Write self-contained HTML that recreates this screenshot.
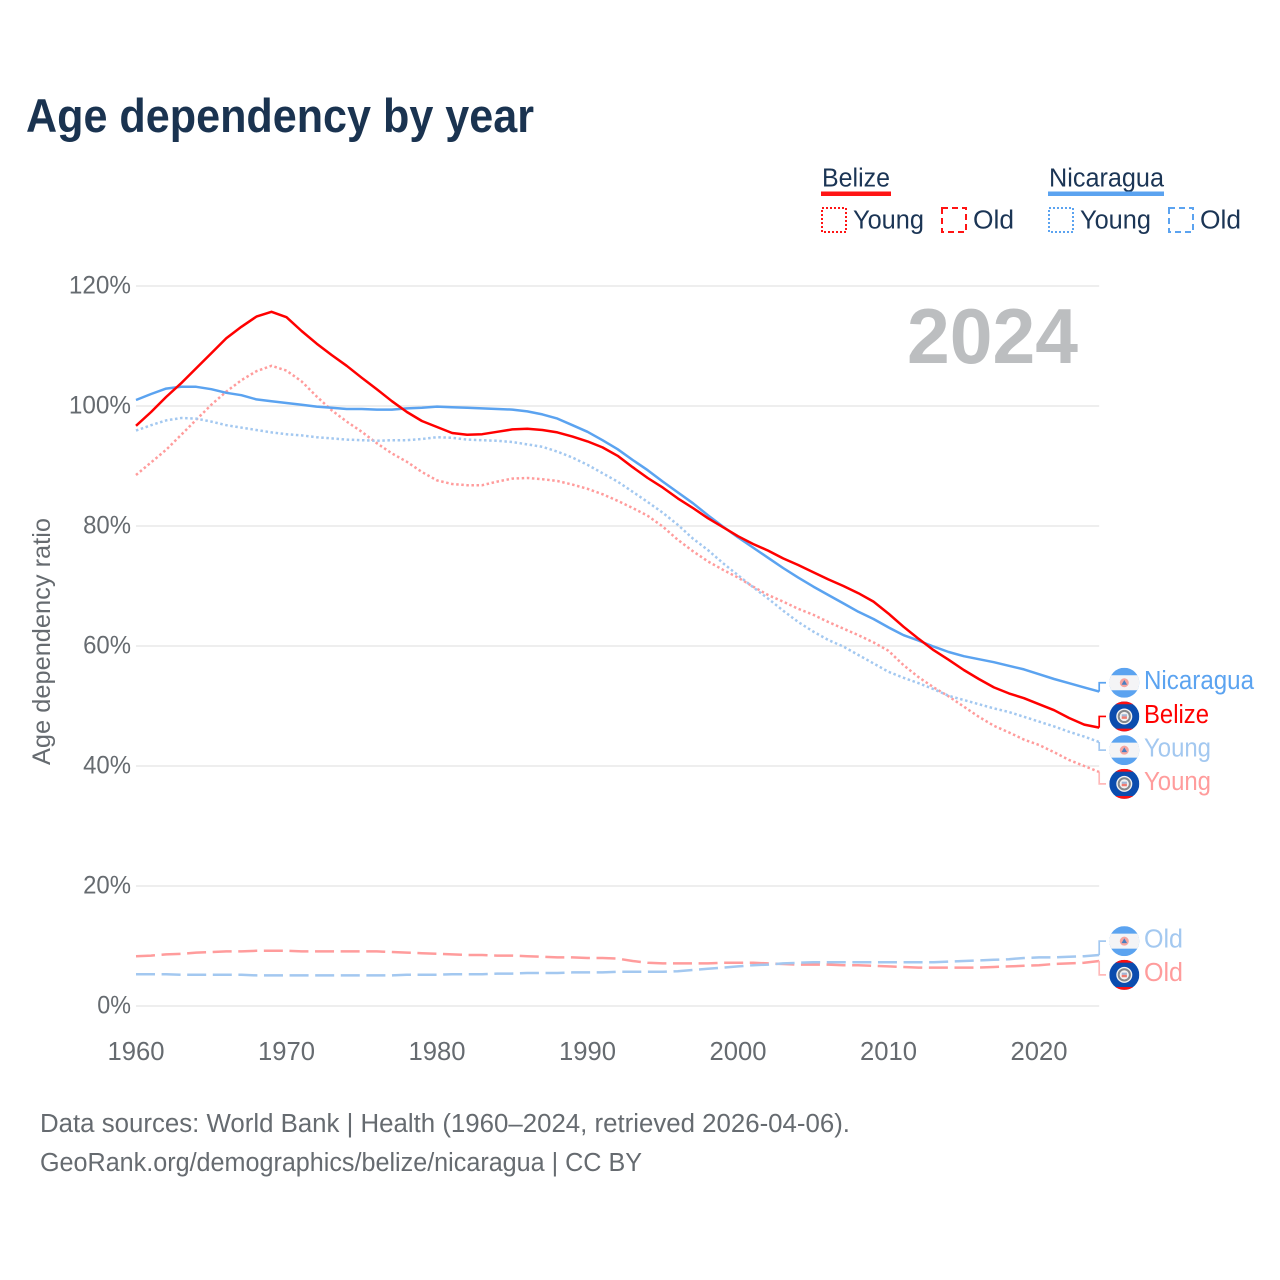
<!DOCTYPE html>
<html lang="en">
<head>
<meta charset="utf-8">
<title>Age dependency by year</title>
<style>
html,body{margin:0;padding:0;background:#fff;}
svg{display:block;}
text{font-family:"Liberation Sans",sans-serif;}
</style>
</head>
<body>
<svg id="chart" xmlns="http://www.w3.org/2000/svg" width="1280" height="1280" viewBox="0 0 1280 1280">
  <rect width="1280" height="1280" fill="#fff"/>
  <defs><clipPath id="flag-clip"><circle cx="0" cy="0" r="15"/></clipPath></defs>
  <text x="26" y="132" font-size="47" font-weight="700" fill="#1a3350" textLength="508" lengthAdjust="spacingAndGlyphs">Age dependency by year</text>

  <g font-size="25.5" fill="#1b3555">
    <text x="822" y="186.5" textLength="68" lengthAdjust="spacingAndGlyphs">Belize</text>
    <rect x="821" y="191.5" width="70" height="4.5" fill="#ff1414"/>
    <text x="1049" y="186.5" textLength="115" lengthAdjust="spacingAndGlyphs">Nicaragua</text>
    <rect x="1048" y="191.5" width="116" height="4.5" fill="#5ba3f0"/>
    <rect x="822" y="208" width="24" height="24" fill="none" stroke="#ff1414" stroke-width="2" stroke-dasharray="2 2"/>
    <text x="853" y="228.5" textLength="71" lengthAdjust="spacingAndGlyphs">Young</text>
    <rect x="942" y="208" width="24" height="24" fill="none" stroke="#ff1414" stroke-width="2" stroke-dasharray="6 4"/>
    <text x="973" y="228.5" textLength="41" lengthAdjust="spacingAndGlyphs">Old</text>
    <rect x="1049" y="208" width="24" height="24" fill="none" stroke="#5ba3f0" stroke-width="2" stroke-dasharray="2 2"/>
    <text x="1080" y="228.5" textLength="71" lengthAdjust="spacingAndGlyphs">Young</text>
    <rect x="1169" y="208" width="24" height="24" fill="none" stroke="#5ba3f0" stroke-width="2" stroke-dasharray="6 4"/>
    <text x="1200" y="228.5" textLength="41" lengthAdjust="spacingAndGlyphs">Old</text>
  </g>

  <g id="grid"></g>
  <g id="yticks"></g>
  <g id="xticks"></g>
  <text transform="translate(50,641.5) rotate(-90)" text-anchor="middle" font-size="25" fill="#666b70" textLength="247" lengthAdjust="spacingAndGlyphs">Age dependency ratio</text>
  <text x="907" y="363" font-size="78" font-weight="700" fill="#bcbec0" textLength="171" lengthAdjust="spacingAndGlyphs">2024</text>
  <g id="series"></g>
  <g id="endlabels"></g>

  <g font-size="25.5" fill="#666b70">
    <text x="40" y="1132" textLength="810" lengthAdjust="spacingAndGlyphs">Data sources: World Bank | Health (1960–2024, retrieved 2026-04-06).</text>
    <text x="40" y="1171" textLength="602" lengthAdjust="spacingAndGlyphs">GeoRank.org/demographics/belize/nicaragua | CC BY</text>
  </g>
</svg>
<script>
const startYear = 1960;
const xTickYears = [1960, 1970, 1980, 1990, 2000, 2010, 2020];
const yTickValues = [0, 20, 40, 60, 80, 100, 120];

const belizeTotal = [96.7,99.0,101.5,103.8,106.3,108.8,111.3,113.2,114.9,115.7,114.8,112.5,110.4,108.5,106.7,104.7,102.8,100.8,99.0,97.5,96.5,95.5,95.2,95.3,95.7,96.1,96.2,96.0,95.6,94.9,94.1,93.1,91.7,89.8,88.0,86.4,84.6,83.0,81.3,79.8,78.3,77.0,75.9,74.6,73.5,72.3,71.1,70.0,68.8,67.4,65.4,63.2,61.2,59.3,57.7,56.0,54.5,53.1,52.1,51.3,50.3,49.3,48.0,46.9,46.4];
const nicaraguaTotal = [101.0,102.0,102.9,103.2,103.2,102.8,102.2,101.8,101.1,100.8,100.5,100.2,99.9,99.7,99.5,99.5,99.4,99.4,99.6,99.7,99.9,99.8,99.7,99.6,99.5,99.4,99.1,98.6,97.9,96.8,95.7,94.3,92.8,91.0,89.3,87.4,85.6,83.8,81.8,79.9,78.1,76.4,74.7,73.0,71.4,69.9,68.5,67.1,65.7,64.5,63.1,61.8,60.9,59.9,59.0,58.3,57.8,57.3,56.7,56.1,55.3,54.5,53.8,53.1,52.4];
const belizeYoung = [88.5,90.6,92.7,95.2,97.7,100.2,102.4,104.3,105.8,106.7,105.9,104.1,101.6,99.3,97.4,95.7,93.8,92.1,90.7,89.0,87.6,87.0,86.8,86.8,87.4,87.9,88.0,87.8,87.5,86.9,86.2,85.3,84.2,83.0,81.7,79.9,77.7,75.8,74.1,72.7,71.4,69.9,68.5,67.4,66.2,65.2,64.0,62.9,61.8,60.6,59.2,56.8,54.8,53.1,51.6,49.9,48.2,46.7,45.6,44.4,43.5,42.3,41.0,40.0,39.0];
const nicaraguaYoung = [95.9,96.8,97.6,98.0,97.9,97.4,96.8,96.4,96.0,95.6,95.3,95.1,94.8,94.6,94.4,94.3,94.2,94.3,94.3,94.5,94.8,94.7,94.4,94.3,94.2,94.0,93.6,93.2,92.4,91.4,90.2,88.8,87.4,85.7,84.0,82.2,80.2,77.9,76.0,73.8,71.8,69.8,67.9,65.9,64.0,62.4,61.0,59.9,58.5,57.1,55.7,54.7,53.8,52.8,51.7,51.0,50.3,49.6,49.0,48.2,47.4,46.6,45.7,44.9,44.0];
const belizeOld = [8.3,8.4,8.6,8.7,8.9,9.0,9.1,9.1,9.2,9.2,9.2,9.1,9.1,9.1,9.1,9.1,9.1,9.0,8.9,8.8,8.7,8.6,8.5,8.5,8.4,8.4,8.3,8.2,8.1,8.1,8.0,8.0,7.9,7.5,7.2,7.1,7.1,7.1,7.1,7.2,7.2,7.2,7.1,7.0,6.9,6.9,6.9,6.8,6.8,6.7,6.6,6.5,6.4,6.4,6.4,6.4,6.4,6.5,6.6,6.7,6.8,7.0,7.1,7.2,7.5];
const nicaraguaOld = [5.3,5.3,5.3,5.2,5.2,5.2,5.2,5.2,5.1,5.1,5.1,5.1,5.1,5.1,5.1,5.1,5.1,5.1,5.2,5.2,5.2,5.3,5.3,5.3,5.4,5.4,5.5,5.5,5.5,5.6,5.6,5.6,5.7,5.7,5.7,5.7,5.8,6.0,6.2,6.4,6.6,6.8,6.9,7.1,7.2,7.3,7.3,7.3,7.3,7.3,7.3,7.3,7.3,7.3,7.4,7.5,7.6,7.7,7.8,8.0,8.1,8.1,8.2,8.3,8.5];

const SVGNS = 'http://www.w3.org/2000/svg';
const xAt = year => 136 + (year - startYear) * 15.05;
const yAt = value => 1006 - value * 6;
const make = (tag, attrs, parent) => {
  const node = document.createElementNS(SVGNS, tag);
  for (const k in attrs) node.setAttribute(k, attrs[k]);
  parent.appendChild(node);
  return node;
};

const gridG = document.getElementById('grid');
const yG = document.getElementById('yticks');
const xG = document.getElementById('xticks');
yTickValues.forEach(v => {
  const line = make('line', {x1: 136, x2: xAt(2024), y1: yAt(v), y2: yAt(v), stroke: '#e8e8e8', 'stroke-width': 1.6}, gridG);
  
  
  const label = String(v);
  const t = make('text', {x: 131, y: yAt(v) + 7.5, 'text-anchor': 'end', 'font-size': 25, fill: '#666b70', textLength: 14.2 * label.length + 19.5, lengthAdjust: 'spacingAndGlyphs'}, yG);
  t.textContent = label + '%';
  
  
});
xTickYears.forEach(year => {
  const t = make('text', {x: xAt(year), y: 1060, 'text-anchor': 'middle', 'font-size': 25.5, fill: '#666b70', textLength: 57, lengthAdjust: 'spacingAndGlyphs'}, xG);
  t.textContent = String(year);
  
  
});

const seriesDefs = [
  {key: 'belize-old', values: belizeOld, color: '#ff9c9c', dash: '19 6.6', width: 2.5, label: 'Old', flag: 'bz', conn: '#ffb9b9'},
  {key: 'nicaragua-old', values: nicaraguaOld, color: '#a3c8f0', dash: '19 6.6', width: 2.5, label: 'Old', flag: 'ni', conn: '#a3c8f0'},
  {key: 'belize-young', values: belizeYoung, color: '#ff9c9c', dash: '2.5 2.6', width: 2.5, label: 'Young', flag: 'bz', conn: '#ffb9b9'},
  {key: 'nicaragua-young', values: nicaraguaYoung, color: '#a3c8f0', dash: '2.5 2.6', width: 2.5, label: 'Young', flag: 'ni', conn: '#a3c8f0'},
  {key: 'nicaragua-total', values: nicaraguaTotal, color: '#5ba3f0', dash: '', width: 2.5, label: 'Nicaragua', flag: 'ni', conn: '#5ba3f0'},
  {key: 'belize-total', values: belizeTotal, color: '#ff0000', dash: '', width: 2.5, label: 'Belize', flag: 'bz', conn: '#ff0000'}
];
const labelWidths = {Nicaragua: 110, Belize: 65, Young: 67, Old: 39};

const seriesG = document.getElementById('series');
seriesDefs.forEach(s => {
  const d = s.values.map((v, i) => (i ? 'L' : 'M') + xAt(startYear + i).toFixed(1) + ' ' + yAt(v).toFixed(1)).join('');
  const attrs = {d: d, fill: 'none', stroke: s.color, 'stroke-width': s.width, 'stroke-linejoin': 'round'};
  if (s.dash) attrs['stroke-dasharray'] = s.dash;
  const path = make('path', attrs, seriesG);
  
  
});

/* spread end labels so they do not overlap */
const GAP = 33.7;
let clusters = seriesDefs.map(s => ({items: [s], sum: yAt(s.values[s.values.length - 1])}))
  .sort((a, b) => a.sum - b.sum);
const clusterCentre = c => c.sum / c.items.length;
const clusterTop = c => clusterCentre(c) - (c.items.length - 1) * GAP / 2;
const clusterBottom = c => clusterCentre(c) + (c.items.length - 1) * GAP / 2;
for (let i = 0; i < clusters.length - 1;) {
  if (clusterBottom(clusters[i]) + GAP > clusterTop(clusters[i + 1])) {
    clusters[i].items = clusters[i].items.concat(clusters[i + 1].items);
    clusters[i].sum += clusters[i + 1].sum;
    clusters.splice(i + 1, 1);
    i = Math.max(0, i - 1);
  } else i++;
}

function drawFlag(kind, cx, cy, parent) {
  const g = make('g', {transform: 'translate(' + cx + ',' + cy + ')', 'clip-path': 'url(#flag-clip)'}, parent);
  
  
  if (kind === 'ni') {
    make('rect', {x: -15, y: -15, width: 30, height: 30, fill: '#5ba3f0'}, g);
    make('rect', {x: -15, y: -7.5, width: 30, height: 15, fill: '#f4f4f6'}, g);
    make('circle', {cx: 0, cy: 0, r: 4.5, fill: '#f6a5a0'}, g);
    make('path', {d: 'M-2.8 2L0 -2.8L2.8 2Z', fill: '#4a7fc0'}, g);
  } else {
    make('rect', {x: -15, y: -15, width: 30, height: 30, fill: '#0b4cae'}, g);
    make('rect', {x: -15, y: -15, width: 30, height: 2.8, fill: '#ff1010'}, g);
    make('rect', {x: -15, y: 12.2, width: 30, height: 2.8, fill: '#ff1010'}, g);
    make('circle', {cx: 0, cy: 0, r: 8, fill: '#f2f2f2'}, g);
    make('circle', {cx: 0, cy: 0, r: 5.6, fill: 'none', stroke: '#85888c', 'stroke-width': 2}, g);
    make('rect', {x: -2.6, y: -2.2, width: 5.2, height: 2.2, fill: '#9fb4d4'}, g);
    make('rect', {x: -2.6, y: 0, width: 5.2, height: 2.4, fill: '#f07b70'}, g);
  }
}

const labelsG = document.getElementById('endlabels');
clusters.forEach(c => {
  c.items.sort((a, b) => b.values[b.values.length - 1] - a.values[a.values.length - 1]);
  c.items.forEach((s, i) => {
    const ly = clusterTop(c) + i * GAP;
    const ey = yAt(s.values[s.values.length - 1]);
    const ex = xAt(2024);
    const conn = make('path', {d: 'M' + ex + ' ' + ey + 'V' + ly + 'H1106', fill: 'none', stroke: s.conn, 'stroke-width': 1.7}, labelsG);
    
    
    drawFlag(s.flag, 1124.3, ly, labelsG);
    const t = make('text', {x: 1144, y: ly + 6.3, 'font-size': 25.5, fill: s.color, textLength: labelWidths[s.label], lengthAdjust: 'spacingAndGlyphs'}, labelsG);
    t.textContent = s.label;
    
    
  });
});
</script>
</body>
</html>
